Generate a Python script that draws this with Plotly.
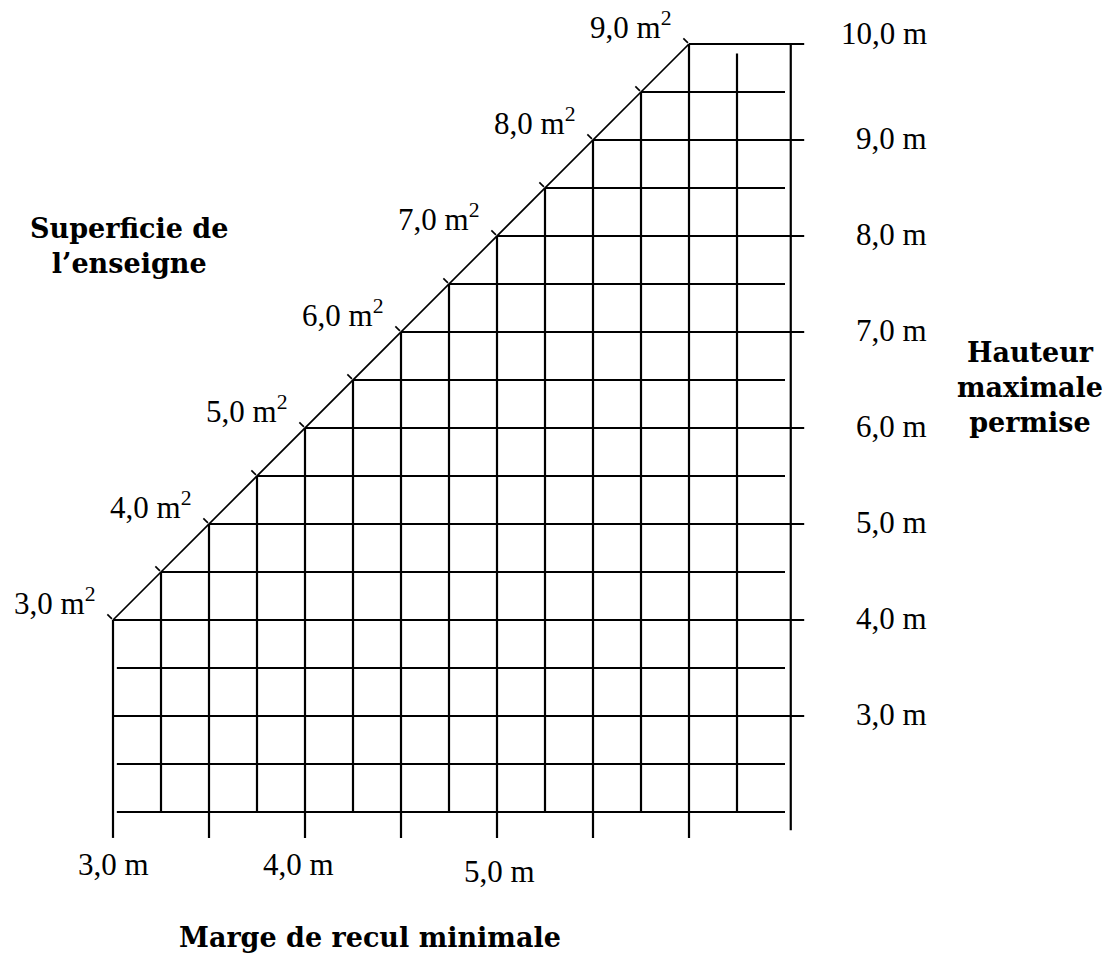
import plotly.graph_objects as go

# ---- data ----
recul_x = [3.0, 3.25, 3.5, 3.75, 4.0, 4.25, 4.5, 4.75, 5.0, 5.25, 5.5, 5.75, 6.0, 6.25]
hauteur_y = [2.0, 2.5, 3.0, 3.5, 4.0, 4.5, 5.0, 5.5, 6.0, 6.5, 7.0, 7.5, 8.0, 8.5, 9.0, 9.5, 10.0]
diag_x = [3.0, 6.0]
diag_y = [4.0, 10.0]
superficie_x = [3.0, 3.5, 4.0, 4.5, 5.0, 5.5, 6.0]
superficie_labels = ["3,0", "4,0", "5,0", "6,0", "7,0", "8,0", "9,0"]
hauteur_label_y = [3.0, 4.0, 5.0, 6.0, 7.0, 8.0, 9.0, 10.0]
hauteur_labels = ["3,0 m", "4,0 m", "5,0 m", "6,0 m", "7,0 m", "8,0 m", "9,0 m", "10,0 m"]
recul_label_x = [3.0, 4.0, 5.0]
recul_labels = ["3,0 m", "4,0 m", "5,0 m"]
tick_x = [3.0 + 0.25 * i for i in range(13)]
right_edge_x = 6.53

# ---- geometry helpers ----
PX_X = 192.0  # pixels per metre horizontally
PX_Y = 96.0   # pixels per metre vertically


def diag(x):
    return diag_y[0] + (x - diag_x[0]) * (diag_y[1] - diag_y[0]) / (diag_x[1] - diag_x[0])


def diag_inv(y):
    return diag_x[0] + (y - diag_y[0]) * (diag_x[1] - diag_x[0]) / (diag_y[1] - diag_y[0])


# grid lines
gx, gy = [], []
for x in recul_x:
    top = diag(x) if x <= diag_x[1] else 9.9
    bottom = 1.73 if abs((x * 2) - round(x * 2)) < 1e-9 else 2.0
    gx += [x, x, None]
    gy += [top, bottom, None]
# right vertical
gx += [right_edge_x, right_edge_x, None]
gy += [hauteur_y[-1], 1.81, None]

for y in hauteur_y:
    if y > diag_y[0]:
        left = diag_inv(y)
    elif abs(y - round(y)) < 1e-9 and y > hauteur_y[0]:
        left = 3.0
    else:
        left = 3.02
    right = 6.6 if (abs(y - round(y)) < 1e-9 and y > hauteur_y[0]) else 6.5
    gx += [left, right, None]
    gy += [y, y, None]

# ticks on diagonal (perpendicular, up-left in pixel space)
tx, ty = [], []
for x in tick_x:
    y = diag(x)
    d0, d1 = 1.5 / 2 ** 0.5, 8.0 / 2 ** 0.5
    tx += [x - d0 / PX_X, x - d1 / PX_X, None]
    ty += [y + d0 / PX_Y, y + d1 / PX_Y, None]

fig = go.Figure()
fig.add_trace(go.Scatter(x=gx, y=gy, mode="lines", line=dict(color="black", width=2.2),
                         hoverinfo="skip", showlegend=False))
fig.add_trace(go.Scatter(x=diag_x, y=diag_y, mode="lines", line=dict(color="black", width=1.7),
                         hoverinfo="skip", showlegend=False))
fig.add_trace(go.Scatter(x=tx, y=ty, mode="lines", line=dict(color="black", width=1.6),
                         hoverinfo="skip", showlegend=False))

num_font = dict(family="Liberation Serif", size=31, color="black")
bold_font = dict(family="DejaVu Serif", size=27, color="black")

ann = []
for x, lab in zip(superficie_x, superficie_labels):
    ann.append(dict(x=x, y=diag(x), text=f"{lab} m<sup>2</sup>", showarrow=False,
                    xanchor="right", yanchor="bottom", xshift=-16, yshift=-3, font=num_font))
for y, lab in zip(hauteur_label_y, hauteur_labels):
    ann.append(dict(x=7.25, y=y, text=lab, showarrow=False, xanchor="right", yanchor="middle",
                    yshift=(11 if y == hauteur_label_y[-1] else 2), font=num_font))
bottom_shift = [(0, 0), (-7, 0), (2, -7)]
for (x, lab), (sx, sy) in zip(zip(recul_label_x, recul_labels), bottom_shift):
    ann.append(dict(x=x, y=1.458, text=lab, showarrow=False, xanchor="center", yanchor="middle",
                    xshift=sx, yshift=sy, font=num_font))

ann.append(dict(x=3.083, y=7.896, text="<b>Superficie de<br>l’enseigne</b>", showarrow=False,
                xanchor="center", yanchor="middle", font=bold_font))
ann.append(dict(x=7.776, y=6.417, text="<b>Hauteur<br>maximale<br>permise</b>", showarrow=False,
                xanchor="center", yanchor="middle", font=bold_font))
ann.append(dict(x=4.339, y=0.69, text="<b>Marge de recul minimale</b>", showarrow=False,
                xanchor="center", yanchor="middle", font=bold_font))

fig.update_layout(
    width=1109, height=957,
    margin=dict(l=0, r=0, t=0, b=0),
    paper_bgcolor="white", plot_bgcolor="white",
    xaxis=dict(range=[3 - 113 / PX_X, 3 + 996 / PX_X], visible=False, fixedrange=True),
    yaxis=dict(range=[4 - 337 / PX_Y, 4 + 620 / PX_Y], visible=False, fixedrange=True),
    annotations=ann,
)

fig.write_html("out.html", config={"displayModeBar": False, "staticPlot": True},
               post_script="document.body.style.margin='0';document.body.style.overflow='hidden';")
